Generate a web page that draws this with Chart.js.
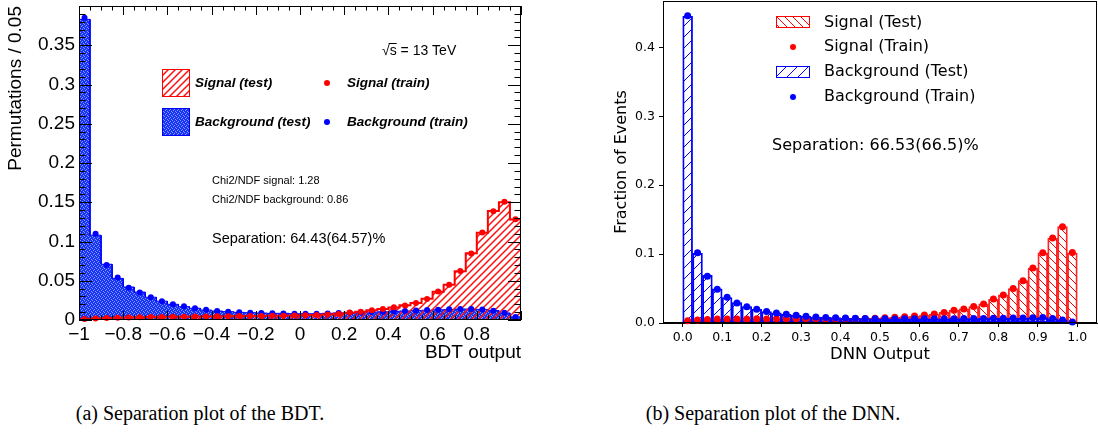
<!DOCTYPE html>
<html>
<head>
<meta charset="utf-8">
<script src="https://cdn.jsdelivr.net/npm/chart.js@4.4.0/dist/chart.umd.min.js"></script>
<style>
  body { margin: 0; background: #fff; }
  #wrap { position: relative; width: 1098px; height: 435px; overflow: hidden; }
  #bdt { position: absolute; left: 0; top: 0; }
  #dnn { position: absolute; left: 600px; top: 0; }
  .caption { position: absolute; top: 402px; width: 400px; text-align: center;
             font-family: "Liberation Serif", serif; font-size: 20px; color: #000; }
</style>
</head>
<body>
<div id="wrap">
  <canvas id="bdt" width="540" height="370"></canvas>
  <canvas id="dnn" width="498" height="370"></canvas>
  <div class="caption" style="left:0px">(a) Separation plot of the BDT.</div>
  <div class="caption" style="left:573px">(b) Separation plot of the DNN.</div>
</div>
<script>
// BDT: 40 bins from -1 to 1
const bdtRange = [-1, 1];
const bdtBkgTest = [0.383, 0.108, 0.071, 0.053, 0.042, 0.0356, 0.029, 0.024, 0.020, 0.017,
    0.015, 0.0127, 0.0114, 0.0106, 0.0097, 0.0093, 0.0089, 0.0085, 0.0085, 0.008,
    0.008, 0.008, 0.0085, 0.009, 0.009, 0.0095, 0.010, 0.0105, 0.011, 0.0115,
    0.012, 0.0125, 0.013, 0.0135, 0.014, 0.014, 0.0135, 0.012, 0.009, 0.004];
const bdtBkgTrain = [0.385, 0.110, 0.070, 0.054, 0.041, 0.035, 0.029, 0.024, 0.020, 0.0175,
    0.015, 0.013, 0.0115, 0.0105, 0.0098, 0.0092, 0.009, 0.0086, 0.0084, 0.0081,
    0.008, 0.0081, 0.0084, 0.0089, 0.0092, 0.0096, 0.0101, 0.0104, 0.0112, 0.0114,
    0.0121, 0.0126, 0.0129, 0.0136, 0.0139, 0.0141, 0.0133, 0.0118, 0.0091, 0.0038];
const bdtSigTest = [0.001, 0.002, 0.0025, 0.003, 0.0032, 0.0035, 0.0037, 0.004, 0.004, 0.0042,
    0.0044, 0.0045, 0.0047, 0.0048, 0.005, 0.005, 0.0052, 0.0053, 0.0055, 0.0057,
    0.006, 0.0064, 0.007, 0.0079, 0.0093, 0.0106, 0.0123, 0.014, 0.016, 0.0187,
    0.0216, 0.027, 0.036, 0.045, 0.062, 0.085, 0.111, 0.139, 0.150, 0.128];
const bdtSigTrain = [0.0012, 0.002, 0.0026, 0.003, 0.0033, 0.0034, 0.0038, 0.0039, 0.0041, 0.0042,
    0.0043, 0.0046, 0.0047, 0.0049, 0.005, 0.0051, 0.0052, 0.0054, 0.0055, 0.0058,
    0.0061, 0.0063, 0.0071, 0.0078, 0.0095, 0.0105, 0.0125, 0.0139, 0.0162, 0.0185,
    0.0218, 0.0268, 0.0362, 0.0448, 0.0625, 0.0848, 0.1115, 0.1385, 0.1505, 0.1285];
const bdtXTicks = [-1, -0.8, -0.6, -0.4, -0.2, 0, 0.2, 0.4, 0.6, 0.8];
const bdtXTickLabels = ["\u22121", "\u22120.8", "\u22120.6", "\u22120.4", "\u22120.2", "0", "0.2", "0.4", "0.6", "0.8"];
const bdtYTicks = [0, 0.05, 0.1, 0.15, 0.2, 0.25, 0.3, 0.35];
const bdtYTickLabels = ["0", "0.05", "0.1", "0.15", "0.2", "0.25", "0.3", "0.35"];

// DNN: 40 bins from 0 to 1
const dnnRange = [0, 1];
const dnnSigTest = [0.0034, 0.0044, 0.0053, 0.0056, 0.0058, 0.0058, 0.0059, 0.006, 0.006, 0.006,
    0.006, 0.0061, 0.0061, 0.0062, 0.0062, 0.0063, 0.0064, 0.0065, 0.0066, 0.0068,
    0.0078, 0.0082, 0.0092, 0.0102, 0.0116, 0.0131, 0.0155, 0.0184, 0.0204, 0.0238,
    0.0277, 0.0345, 0.0408, 0.050, 0.0616, 0.0796, 0.102, 0.123, 0.140, 0.102];
const dnnSigTrain = [0.0033, 0.0045, 0.0052, 0.0057, 0.0057, 0.0059, 0.0058, 0.0061, 0.0059, 0.006,
    0.0061, 0.006, 0.0062, 0.0061, 0.0063, 0.0062, 0.0065, 0.0064, 0.0067, 0.0069,
    0.0077, 0.0083, 0.0091, 0.0103, 0.0115, 0.0132, 0.0154, 0.0186, 0.0203, 0.0239,
    0.0276, 0.0347, 0.0406, 0.0502, 0.0614, 0.0798, 0.1018, 0.1232, 0.1398, 0.1022];
const dnnBkgTest = [0.445, 0.101, 0.069, 0.0495, 0.037, 0.0296, 0.0238, 0.020, 0.0165, 0.0146,
    0.0126, 0.011, 0.0097, 0.0087, 0.0082, 0.0078, 0.0073, 0.0068, 0.0065, 0.0062,
    0.006, 0.006, 0.006, 0.006, 0.006, 0.0061, 0.0062, 0.0063, 0.0064, 0.0065,
    0.0066, 0.0068, 0.007, 0.0071, 0.0073, 0.0075, 0.0078, 0.0065, 0.0045, 0.0015];
const dnnBkgTrain = [0.446, 0.102, 0.068, 0.049, 0.0375, 0.029, 0.0235, 0.0198, 0.0168, 0.0145,
    0.0127, 0.0111, 0.0098, 0.0088, 0.0081, 0.0077, 0.0072, 0.0069, 0.0064, 0.0062,
    0.0061, 0.0059, 0.006, 0.0061, 0.006, 0.0062, 0.0061, 0.0063, 0.0065, 0.0064,
    0.0067, 0.0069, 0.007, 0.0072, 0.0074, 0.0076, 0.0079, 0.0066, 0.0044, 0.0016];
const dnnXTicks = [0, 0.1, 0.2, 0.3, 0.4, 0.5, 0.6, 0.7, 0.8, 0.9, 1.0];
const dnnYTicks = [0, 0.1, 0.2, 0.3, 0.4];

function toPoints(range, values) {
    const w = (range[1] - range[0]) / values.length;
    return values.map((v, i) => ({x: range[0] + (i + 0.5) * w, y: v}));
}

function toSteps(range, values) {
    const w = (range[1] - range[0]) / values.length;
    const pts = [{x: range[0], y: 0}];
    values.forEach((v, i) => {
        pts.push({x: range[0] + i * w, y: v}, {x: range[0] + (i + 1) * w, y: v});
    });
    pts.push({x: range[1], y: 0});
    return pts;
}

function hatch(color, size, dir, lw) {
    const c = document.createElement("canvas");
    c.width = size;
    c.height = size;
    const g = c.getContext("2d");
    g.strokeStyle = color;
    g.lineWidth = lw;
    g.beginPath();
    if (dir === "/") {
        g.moveTo(-1, size + 1); g.lineTo(size + 1, -1);
        g.moveTo(-1, 1); g.lineTo(1, -1);
        g.moveTo(size - 1, size + 1); g.lineTo(size + 1, size - 1);
    } else {
        g.moveTo(-1, -1); g.lineTo(size + 1, size + 1);
        g.moveTo(size - 1, -1); g.lineTo(size + 1, 1);
        g.moveTo(-1, size - 1); g.lineTo(1, size + 1);
    }
    g.stroke();
    return g.createPattern(c, "repeat");
}

function grain() {
    const c = document.createElement("canvas");
    c.width = 4;
    c.height = 4;
    const g = c.getContext("2d");
    g.fillStyle = "#1634f4";
    g.fillRect(0, 0, 4, 4);
    g.fillStyle = "#8a98ff";
    [[0, 0], [2, 1], [1, 2], [3, 3]].forEach(([x, y]) => g.fillRect(x, y, 1, 1));
    return g.createPattern(c, "repeat");
}

const bdtRedHatch = hatch("#ff1010", 7, "/", 1.5);
const bdtBlueFill = grain();
const dnnRedHatch = hatch("#ff0000", 8, "\\", 1);
const dnnBlueHatch = hatch("#0000ff", 11, "/", 1);

const rootFont = "Liberation Sans";
const mplFont = "DejaVu Sans";

// no extra label padding around the plot frame
const noPad = (s) => {
    s.paddingTop = 0;
    s.paddingBottom = 0;
    s.paddingLeft = 0;
    s.paddingRight = 0;
};

const bdtDecor = {
    id: "bdtDecor",
    afterDraw(chart) {
        const {ctx, chartArea: a, scales: {x, y}} = chart;
        ctx.save();
        ctx.strokeStyle = "#000";
        ctx.lineWidth = 1;
        ctx.strokeRect(a.left + 0.5, a.top + 0.5, a.right - a.left - 1, a.bottom - a.top - 1);

        ctx.beginPath();
        for (let i = 0; i <= 40; i++) {
            const px = Math.round(x.getPixelForValue(-1 + i * 0.05)) + 0.5;
            const len = i % 4 === 0 ? 9 : 4.5;
            ctx.moveTo(px, a.bottom); ctx.lineTo(px, a.bottom - len);
            ctx.moveTo(px, a.top); ctx.lineTo(px, a.top + len);
        }
        for (let i = 0; i <= 40; i++) {
            const py = Math.round(y.getPixelForValue(i * 0.01)) + 0.5;
            const len = i % 5 === 0 ? 13 : 6.5;
            ctx.moveTo(a.left, py); ctx.lineTo(a.left + len, py);
            ctx.moveTo(a.right, py); ctx.lineTo(a.right - len, py);
        }
        ctx.stroke();

        // legend
        ctx.fillStyle = bdtRedHatch;
        ctx.fillRect(162, 69, 28, 28);
        ctx.strokeStyle = "#ff0000";
        ctx.strokeRect(162.5, 69.5, 27, 27);
        ctx.fillStyle = bdtBlueFill;
        ctx.fillRect(162, 108, 28, 28);
        ctx.strokeStyle = "#0000ff";
        ctx.strokeRect(162.5, 108.5, 27, 27);

        ctx.fillStyle = "#ff0000";
        ctx.beginPath(); ctx.arc(327, 83, 3, 0, 2 * Math.PI); ctx.fill();
        ctx.fillStyle = "#0000ff";
        ctx.beginPath(); ctx.arc(327, 122, 3, 0, 2 * Math.PI); ctx.fill();

        ctx.fillStyle = "#000";
        ctx.textBaseline = "middle";
        ctx.textAlign = "left";
        ctx.font = "bold italic 13.5px '" + rootFont + "'";
        ctx.fillText("Signal (test)", 195, 83);
        ctx.fillText("Signal (train)", 347, 83);
        ctx.fillText("Background (test)", 195, 122);
        ctx.fillText("Background (train)", 347, 122);

        ctx.font = "14px '" + rootFont + "'";
        ctx.fillText("\u221As = 13 TeV", 382, 51);
        const rootW = ctx.measureText("\u221A").width;
        const sW = ctx.measureText("s").width;
        ctx.beginPath();
        ctx.lineWidth = 1;
        ctx.strokeStyle = "#000";
        ctx.moveTo(382 + rootW - 1, 43.5);
        ctx.lineTo(382 + rootW + sW, 43.5);
        ctx.stroke();

        ctx.font = "11px '" + rootFont + "'";
        ctx.fillText("Chi2/NDF signal: 1.28", 212, 181);
        ctx.fillText("Chi2/NDF background: 0.86", 212, 200);

        ctx.font = "14.5px '" + rootFont + "'";
        ctx.fillText("Separation: 64.43(64.57)%", 212, 239);
        ctx.restore();
    }
};

new Chart(document.getElementById("bdt"), {
    type: "line",
    data: {
        datasets: [
            {
                label: "Signal (train)",
                data: toPoints(bdtRange, bdtSigTrain),
                showLine: false,
                pointRadius: 3,
                pointBorderWidth: 0,
                pointBackgroundColor: "#ff0000",
                clip: false,
                order: 1,
            },
            {
                label: "Background (train)",
                data: toPoints(bdtRange, bdtBkgTrain),
                showLine: false,
                pointRadius: 3,
                pointBorderWidth: 0,
                pointBackgroundColor: "#0000ff",
                clip: false,
                order: 2,
            },
            {
                label: "Signal (test)",
                data: toSteps(bdtRange, bdtSigTest),
                borderColor: "#ff0000",
                borderWidth: 2,
                backgroundColor: bdtRedHatch,
                fill: "origin",
                pointRadius: 0,
                tension: 0,
                order: 3,
            },
            {
                label: "Background (test)",
                data: toSteps(bdtRange, bdtBkgTest),
                borderColor: "#0000ff",
                borderWidth: 1,
                backgroundColor: bdtBlueFill,
                fill: "origin",
                pointRadius: 0,
                tension: 0,
                order: 4,
            },
        ],
    },
    options: {
        responsive: false,
        animation: false,
        events: [],
        layout: {autoPadding: false, padding: {top: 6, right: 19, left: 0, bottom: 0}},
        plugins: {legend: {display: false}, tooltip: {enabled: false}},
        scales: {
            x: {
                type: "linear",
                min: bdtRange[0],
                max: bdtRange[1],
                afterBuildTicks: (s) => { s.ticks = bdtXTicks.map((v) => ({value: v})); },
                afterFit: (s) => { s.height = 50; noPad(s); },
                grid: {display: false, drawTicks: false},
                border: {display: false},
                ticks: {
                    autoSkip: false,
                    maxRotation: 0,
                    padding: 3,
                    color: "#000",
                    font: {family: rootFont, size: 19},
                    callback: (v, i) => bdtXTickLabels[i],
                },
                title: {
                    display: true,
                    text: "BDT output",
                    align: "end",
                    color: "#000",
                    font: {family: rootFont, size: 19},
                    padding: {top: 0, bottom: 6},
                },
            },
            y: {
                min: 0,
                max: 0.4,
                afterBuildTicks: (s) => { s.ticks = bdtYTicks.map((v) => ({value: v})); },
                afterFit: (s) => { s.width = 79; noPad(s); },
                grid: {display: false, drawTicks: false},
                border: {display: false},
                ticks: {
                    autoSkip: false,
                    padding: 4,
                    color: "#000",
                    font: {family: rootFont, size: 19},
                    callback: (v, i) => bdtYTickLabels[i],
                },
                title: {
                    display: true,
                    text: "Permutations / 0.05",
                    align: "end",
                    color: "#000",
                    font: {family: rootFont, size: 19},
                    padding: {top: 4, bottom: 0},
                },
            },
        },
    },
    plugins: [bdtDecor],
});

const dnnDecor = {
    id: "dnnDecor",
    afterDraw(chart) {
        const {ctx, chartArea: a} = chart;
        ctx.save();
        ctx.strokeStyle = "#000";
        ctx.lineWidth = 1;
        ctx.strokeRect(a.left + 0.5, a.top + 0.5, a.right - a.left - 1, a.bottom - a.top - 1);

        // legend (page x minus 600)
        ctx.fillStyle = dnnRedHatch;
        ctx.fillRect(176, 16, 34, 12);
        ctx.strokeStyle = "#ff0000";
        ctx.strokeRect(176.5, 16.5, 33, 11);
        ctx.fillStyle = dnnBlueHatch;
        ctx.fillRect(176, 66, 34, 12);
        ctx.strokeStyle = "#0000ff";
        ctx.strokeRect(176.5, 66.5, 33, 11);
        ctx.fillStyle = "#ff0000";
        ctx.beginPath(); ctx.arc(193, 47, 3, 0, 2 * Math.PI); ctx.fill();
        ctx.fillStyle = "#0000ff";
        ctx.beginPath(); ctx.arc(193, 97, 3, 0, 2 * Math.PI); ctx.fill();

        ctx.fillStyle = "#000";
        ctx.textBaseline = "middle";
        ctx.font = "16px '" + mplFont + "'";
        ctx.fillText("Signal (Test)", 224, 23);
        ctx.fillText("Signal (Train)", 224, 47);
        ctx.fillText("Background (Test)", 224, 72);
        ctx.fillText("Background (Train)", 224, 97);
        ctx.fillText("Separation: 66.53(66.5)%", 172, 146);
        ctx.restore();
    }
};

const dnnBar = {
    grouped: false,
    barPercentage: 1,
    categoryPercentage: 1,
    borderWidth: 1.2,
    borderSkipped: false,
};

new Chart(document.getElementById("dnn"), {
    type: "bar",
    data: {
        datasets: [
            {
                type: "line",
                label: "Background (Train)",
                data: toPoints(dnnRange, dnnBkgTrain),
                showLine: false,
                pointRadius: 3.5,
                pointBorderWidth: 0,
                pointBackgroundColor: "#0000ff",
                clip: false,
                order: 1,
            },
            {
                type: "line",
                label: "Signal (Train)",
                data: toPoints(dnnRange, dnnSigTrain),
                showLine: false,
                pointRadius: 3.5,
                pointBorderWidth: 0,
                pointBackgroundColor: "#ff0000",
                clip: false,
                order: 2,
            },
            {
                ...dnnBar,
                label: "Background (Test)",
                data: toPoints(dnnRange, dnnBkgTest),
                backgroundColor: dnnBlueHatch,
                borderColor: "#0000ff",
                order: 3,
            },
            {
                ...dnnBar,
                label: "Signal (Test)",
                data: toPoints(dnnRange, dnnSigTest),
                backgroundColor: dnnRedHatch,
                borderColor: "rgba(255,0,0,0.85)",
                order: 4,
            },
        ],
    },
    options: {
        responsive: false,
        animation: false,
        events: [],
        layout: {autoPadding: false, padding: {top: 1, right: 1, left: 0, bottom: 0}},
        plugins: {legend: {display: false}, tooltip: {enabled: false}},
        scales: {
            x: {
                type: "linear",
                offset: false,
                min: -0.05,
                max: 1.05,
                afterBuildTicks: (s) => { s.ticks = dnnXTicks.map((v) => ({value: v})); },
                afterFit: (s) => { s.height = 47; noPad(s); },
                grid: {display: true, drawOnChartArea: false, drawTicks: true, tickLength: 4, color: "#000", offset: false},
                border: {display: true, color: "#000", width: 1},
                ticks: {
                    autoSkip: false,
                    maxRotation: 0,
                    padding: 3,
                    color: "#000",
                    font: {family: mplFont, size: 12.5},
                    callback: (v) => v.toFixed(1),
                },
                title: {
                    display: true,
                    text: "DNN Output",
                    color: "#000",
                    font: {family: mplFont, size: 16.5},
                    padding: {top: 0, bottom: 5},
                },
            },
            y: {
                min: 0,
                max: 0.4673,
                afterBuildTicks: (s) => { s.ticks = dnnYTicks.map((v) => ({value: v})); },
                afterFit: (s) => { s.width = 63; noPad(s); },
                grid: {display: true, drawOnChartArea: false, drawTicks: true, tickLength: 4, color: "#000"},
                border: {display: true, color: "#000", width: 1},
                ticks: {
                    autoSkip: false,
                    padding: 4,
                    color: "#000",
                    font: {family: mplFont, size: 12.5},
                    callback: (v) => v.toFixed(1),
                },
                title: {
                    display: true,
                    text: "Fraction of Events",
                    color: "#000",
                    font: {family: mplFont, size: 16},
                    padding: {top: 12, bottom: 0},
                },
            },
        },
    },
    plugins: [dnnDecor],
});
</script>
</body>
</html>
